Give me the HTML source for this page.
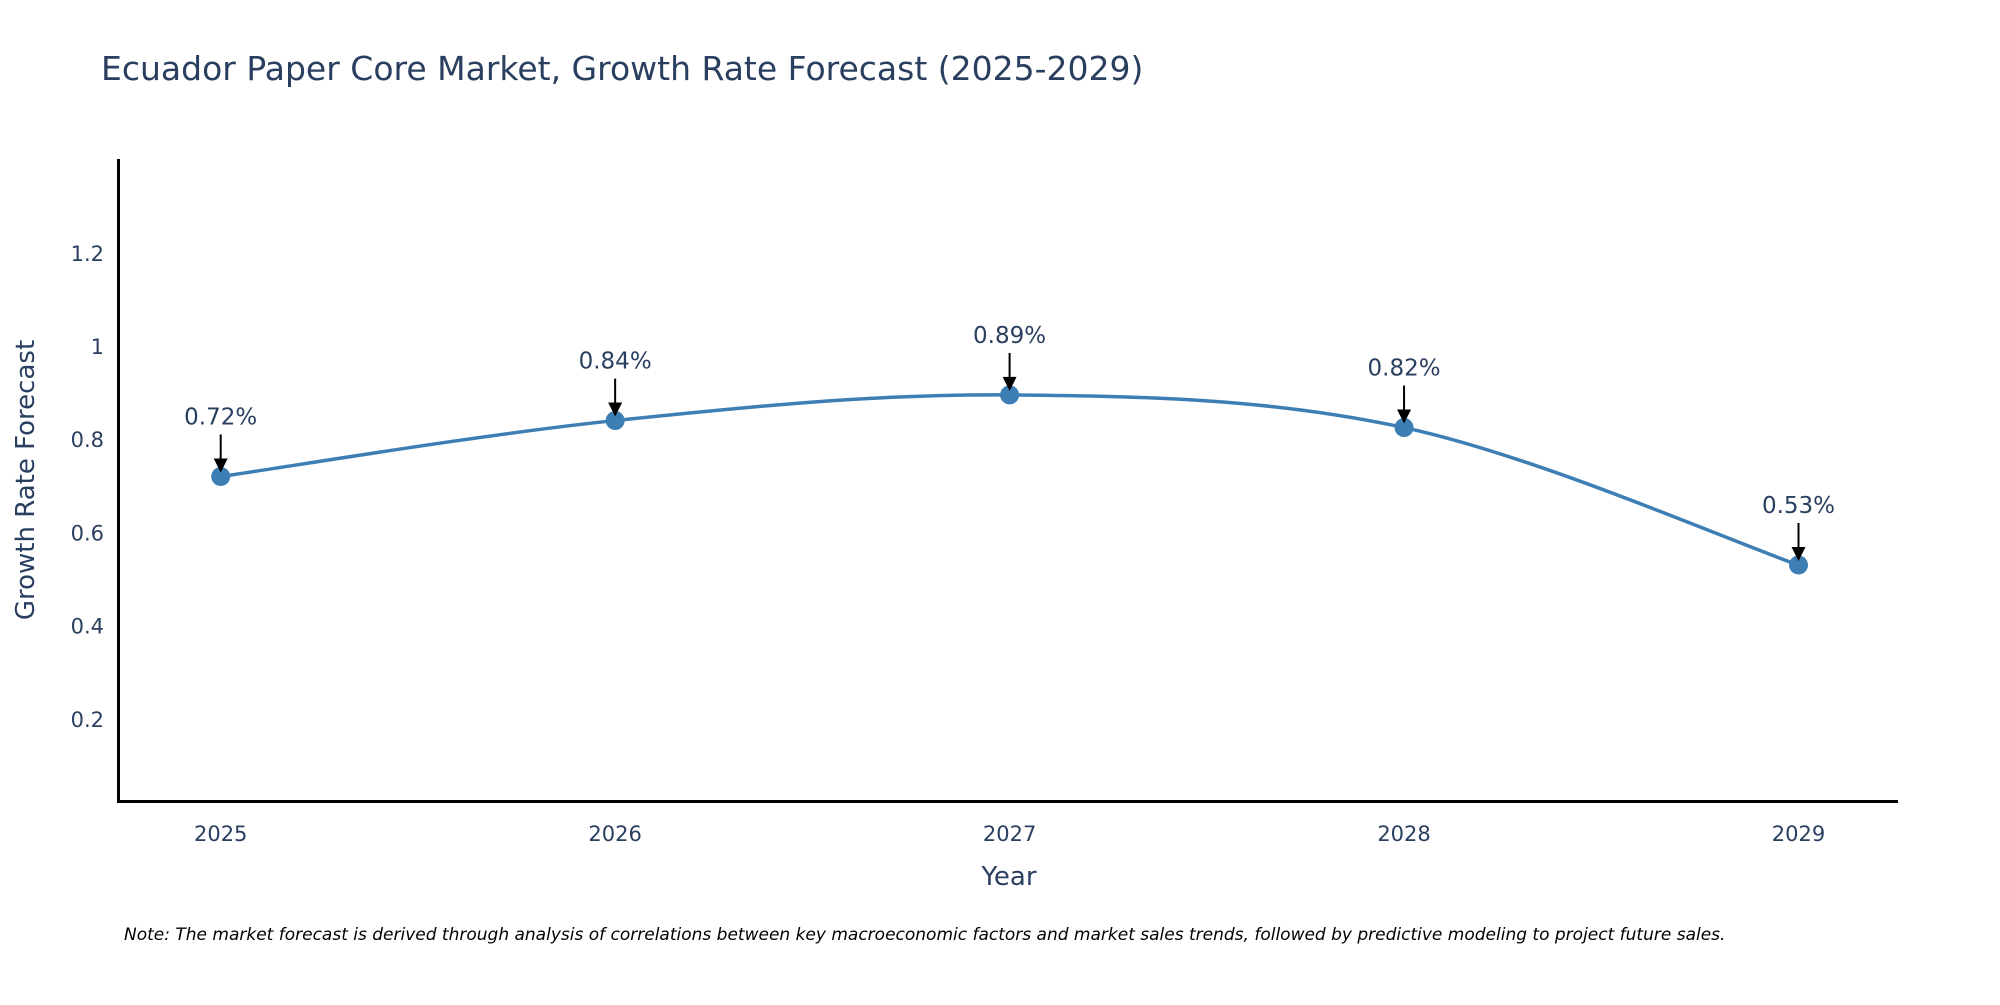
<!DOCTYPE html>
<html><head><meta charset="utf-8"><style>
body{margin:0;background:#fff;}
svg text{font-family:"DejaVu Sans","Liberation Sans",sans-serif;}
</style></head><body>
<svg id="chart" width="2000" height="1000" xmlns="http://www.w3.org/2000/svg">
<text x="101" y="80" font-size="33" fill="#2a3f5f">Ecuador Paper Core Market, Growth Rate Forecast (2025-2029)</text>
<g id="yticks"></g><g id="xticks"></g>
<path id="line" fill="none" stroke="#3d7fb4" stroke-width="3.5"/>
<g id="pts"></g>
<line x1="118.5" y1="159" x2="118.5" y2="802" stroke="#000" stroke-width="3"/>
<line x1="117" y1="801.5" x2="1898" y2="801.5" stroke="#000" stroke-width="3"/>
<text x="1009" y="885" font-size="26" fill="#2a3f5f" text-anchor="middle">Year</text>
<text transform="translate(34,480) rotate(-90)" font-size="26" fill="#2a3f5f" text-anchor="middle">Growth Rate Forecast</text>
<text x="124" y="940" font-size="17" font-style="italic" fill="#000">Note: The market forecast is derived through analysis of correlations between key macroeconomic factors and market sales trends, followed by predictive modeling to project future sales.</text>
</svg>
<script>
const years=[2025,2026,2027,2028,2029];
const values=[0.72,0.84,0.895,0.825,0.53];
const labels=["0.72%","0.84%","0.89%","0.82%","0.53%"];
const yTicks=[0.2,0.4,0.6,0.8,1,1.2];
const NS="http://www.w3.org/2000/svg";
const X=v=>220.7+(v-2025)*(1798.5-220.7)/4;
const Y=v=>812-v*466;
function mk(t,a,p){const e=document.createElementNS(NS,t);for(const k in a)e.setAttribute(k,a[k]);p.appendChild(e);return e;}
const yt=document.getElementById('yticks');
yTicks.forEach(v=>{const t=mk('text',{x:104,y:Y(v)+8,'font-size':21,fill:'#2a3f5f','text-anchor':'end'},yt);


t.textContent=String(v);});
const xt=document.getElementById('xticks');
years.forEach(v=>{const t=mk('text',{x:X(v),y:841,'font-size':21,fill:'#2a3f5f','text-anchor':'middle'},xt);


t.textContent=String(v);});
const P=years.map((y,i)=>[X(y),Y(values[i])]);
let d='M'+P[0][0]+','+P[0][1];const s=0.17;
for(let i=0;i<P.length-1;i++){const p0=P[Math.max(i-1,0)],p1=P[i],p2=P[i+1],p3=P[Math.min(i+2,P.length-1)];
d+=` C${p1[0]+(p2[0]-p0[0])*s},${p1[1]+(p2[1]-p0[1])*s} ${p2[0]-(p3[0]-p1[0])*s},${p2[1]-(p3[1]-p1[1])*s} ${p2[0]},${p2[1]}`;}
document.getElementById('line').setAttribute('d',d);
const g=document.getElementById('pts');
P.forEach((p,i)=>{
const c=mk('circle',{cx:p[0],cy:p[1],r:9.5,fill:'#3d7fb4'},g);


const l=mk('line',{x1:p[0],y1:p[1]-42,x2:p[0],y2:p[1]-16,stroke:'#000','stroke-width':2},g);


const a=mk('polygon',{points:`${p[0]-7},${p[1]-18} ${p[0]+7},${p[1]-18} ${p[0]},${p[1]-4}`,fill:'#000'},g);


const t=mk('text',{x:p[0],y:p[1]-52,'font-size':23,fill:'#2a3f5f','text-anchor':'middle'},g);


t.textContent=labels[i];});
</script>
</body></html>
